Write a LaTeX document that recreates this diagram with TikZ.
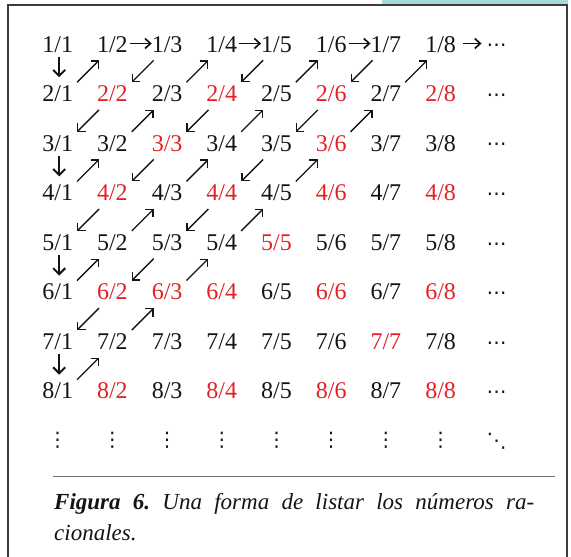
\documentclass[tikz,border=0pt]{standalone}
\usepackage{fontspec}
\setmainfont{Liberation Serif}
\newfontfamily\dotsfont{DejaVu Sans}
\usetikzlibrary{arrows.meta,calc}
\definecolor{fracred}{RGB}{228,32,38}
\definecolor{txtblack}{RGB}{20,20,20}
\definecolor{tealbar}{RGB}{166,217,217}
\definecolor{framegray}{RGB}{60,60,60}
\definecolor{rulegray}{RGB}{120,120,120}
\newcommand{\arrNE}[2]{\draw[diagarr] ($(#1)!0.5!(#2)+(-8,13.5)$) -- ($(#1)!0.5!(#2)+(14,-8.5)$);}
\newcommand{\arrSW}[2]{\draw[diagarr] ($(#1)!0.5!(#2)+(14,-8.5)$) -- ($(#1)!0.5!(#2)+(-8,13.5)$);}
\newcommand{\arrDown}[2]{\draw[downarr] ($(#1)!0.5!(#2)+(1.5,-12)$) -- ($(#1)!0.5!(#2)+(1.5,8.5)$);}
\newcommand{\arrRight}[2]{\draw[rightarr] ($(#1)!0.5!(#2)+(-10,-0.5)$) -- ($(#1)!0.5!(#2)+(12,-0.5)$);}
\begin{document}
\begin{tikzpicture}[x=1pt,y=-1pt,
  frac/.style={inner sep=0pt,text height=16pt,text depth=0pt,font=\fontsize{24}{28}\selectfont},
  dotnode/.style={inner sep=0pt,font=\dotsfont\fontsize{20}{22}\selectfont,text=txtblack},
  diagarr/.style={-{Straight Barb[length=5.5pt,width=11pt]},line width=1.35pt,draw=txtblack},
  downarr/.style={-{Straight Barb[length=6pt,width=12pt]},line width=2pt,draw=txtblack},
  rightarr/.style={-{Straight Barb[length=5.5pt,width=10pt]},line width=1.7pt,draw=txtblack},
  capfont/.style={inner sep=0pt,font=\fontsize{23}{30}\selectfont\itshape\frenchspacing,text=txtblack}
]
\useasboundingbox (0,0) rectangle (571,557);
\fill[tealbar] (382,0) rectangle (568,5);
\draw[framegray,line width=1.5pt] (8,558) -- (8,5) -- (567,5) -- (567,558);

\foreach \i in {1,...,8}{
  \foreach \j in {1,...,8}{
    \pgfmathtruncatemacro\g{gcd(\i,\j)}
    \ifnum\g>1 \def\col{fracred}\else\def\col{txtblack}\fi
    \node[frac,text=\col] (n\i-\j) at ({57.7+54.7*(\j-1)},{44+49.57*(\i-1)}) {\i/\j};
  }
  \node[dotnode] (d\i) at (496.5,{48+49.57*(\i-1)}) {⋯};
}
\foreach \j in {1,...,8}{
  \node[dotnode] (v\j) at ({57.7+54.7*(\j-1)},440) {⋮};
}
\node[dotnode] (dd) at (496.5,441) {⋱};

% rows 1-2
\arrDown{n1-1}{n2-1}
\arrNE{n2-1}{n1-2}
\arrRight{n1-2}{n1-3}
\arrSW{n1-3}{n2-2}
\arrNE{n2-3}{n1-4}
\arrRight{n1-4}{n1-5}
\arrSW{n1-5}{n2-4}
\arrNE{n2-5}{n1-6}
\arrRight{n1-6}{n1-7}
\arrSW{n1-7}{n2-6}
\arrNE{n2-7}{n1-8}
\draw[rightarr] ($(n1-8)!0.5!(d1)+(-5.5,-2.5)$) -- ($(n1-8)!0.5!(d1)+(13,-2.5)$);
% rows 2-3
\arrSW{n2-2}{n3-1}
\arrNE{n3-2}{n2-3}
\arrSW{n2-4}{n3-3}
\arrNE{n3-4}{n2-5}
\arrSW{n2-6}{n3-5}
\arrNE{n3-6}{n2-7}
% rows 3-4
\arrDown{n3-1}{n4-1}
\arrNE{n4-1}{n3-2}
\arrSW{n3-3}{n4-2}
\arrNE{n4-3}{n3-4}
\arrSW{n3-5}{n4-4}
\arrNE{n4-5}{n3-6}
% rows 4-5
\arrSW{n4-2}{n5-1}
\arrNE{n5-2}{n4-3}
\arrSW{n4-4}{n5-3}
\arrNE{n5-4}{n4-5}
% rows 5-6
\arrDown{n5-1}{n6-1}
\arrNE{n6-1}{n5-2}
\arrSW{n5-3}{n6-2}
\arrNE{n6-3}{n5-4}
% rows 6-7
\arrSW{n6-2}{n7-1}
\arrNE{n7-2}{n6-3}
% rows 7-8
\arrDown{n7-1}{n8-1}
\arrNE{n8-1}{n7-2}

\draw[rulegray,line width=1.2pt] (53,476.7) -- (555,476.7);
\node[capfont,anchor=base west] (cap1) at (54,509) {\makebox[480pt][s]{\textbf{Figura 6.} Una forma de listar los números ra-}};
\node[capfont,anchor=base west] (cap2) at (54,540) {cionales.};
\end{tikzpicture}
\end{document}
